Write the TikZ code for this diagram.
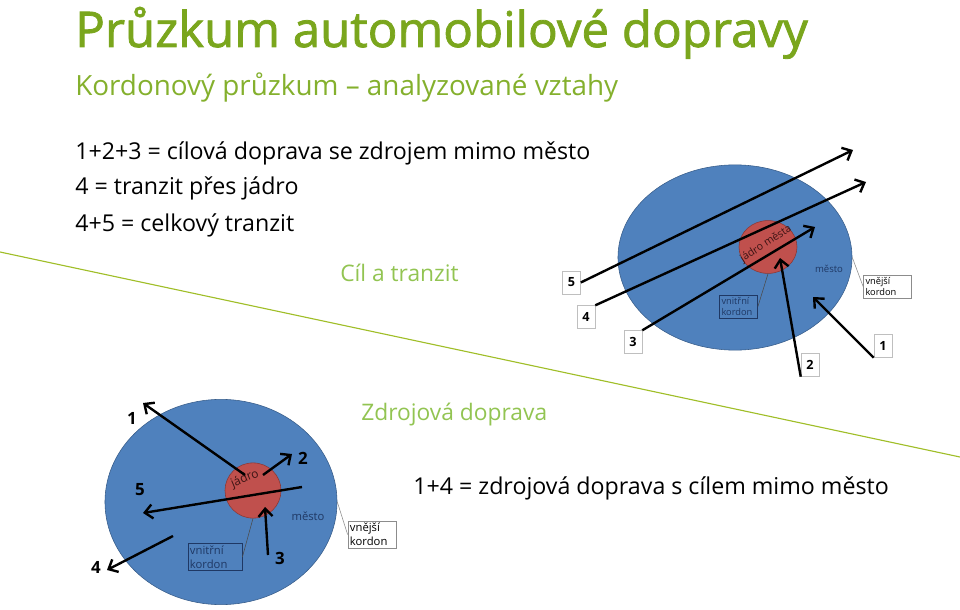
\documentclass[tikz,border=0pt]{standalone}
\usepackage{fontspec}
\setmainfont{Open Sans}
\newfontfamily\titlefont[FakeBold=1.6]{Open Sans}
\usetikzlibrary{arrows.meta, positioning, shapes.geometric}
\definecolor{titlegreen}{RGB}{122,166,29}
\definecolor{subgreen}{RGB}{132,176,45}
\definecolor{partgreen}{RGB}{146,196,82}
\definecolor{rulegreen}{RGB}{160,190,40}
\definecolor{cityblue}{RGB}{79,129,189}
\definecolor{cityedge}{RGB}{56,93,138}
\definecolor{corered}{RGB}{192,80,77}
\definecolor{coreedge}{RGB}{140,56,53}
\definecolor{labelblue}{RGB}{31,56,100}
\definecolor{corelabel}{RGB}{60,20,20}
\tikzset{
   txt/.style={anchor=base west, inner sep=0pt},
   heading/.style={txt, text=titlegreen, font=\titlefont\fontsize{35}{40}\selectfont},
   subheading/.style={txt, text=subgreen, font=\fontsize{19.8}{24}\selectfont},
   bodytext/.style={txt, font=\fontsize{16.5}{19}\selectfont},
   parttitle/.style={txt, text=partgreen, font=\fontsize{16.2}{19}\selectfont},
   city/.style={ellipse, draw=cityedge, fill=cityblue, inner sep=0pt},
   core/.style={ellipse, draw=coreedge, fill=corered, inner sep=0pt},
   kordonbox/.style={draw, inner sep=1.5pt, align=left, text width=#1},
   innerbox/.style={kordonbox=0.85cm, draw=labelblue, fill=cityblue, text=labelblue},
   outerbox/.style={kordonbox=1.1cm, draw=black!45, fill=white},
   numbox/.style={draw=black!25, fill=white, inner sep=0pt,
      minimum width=0.45cm, minimum height=0.57cm,
      font=\fontsize{9}{10}\selectfont\bfseries},
   numtext/.style={inner sep=0pt, font=\fontsize{12}{13}\selectfont\bfseries},
   flow/.style={-{Straight Barb[length=5.5pt, width=10pt]}, line width=1.7pt},
   leader/.style={thin}
}
\begin{document}
\begin{tikzpicture}[x=0.025cm, y=-0.025cm]
   \useasboundingbox (0,0) rectangle (960,610);

   % headings
   \node[heading](title) at (75,47) {Průzkum automobilové dopravy};
   \node[subheading](subtitle) at (75,96) {Kordonový průzkum – analyzované vztahy};
   \node[bodytext](line1) at (75,160) {1+2+3 = cílová doprava se zdrojem mimo město};
   \node[bodytext](line2) at (75,195) {4 = tranzit přes jádro};
   \node[bodytext](line3) at (75,231) {4+5 = celkový tranzit};

   \coordinate (ruleA) at (0,252);
   \coordinate (ruleB) at (960,457);
   \draw[rulegreen, thick] (ruleA) -- (ruleB);

   % cil a tranzit
   \node[parttitle](goal) at (340,281) {Cíl a tranzit};

   \node[city, minimum width=5.85cm, minimum height=4.63cm](town) at (735,257.5) {};
   \node[core, minimum width=1.45cm, minimum height=1.32cm](centre) at (768,247) {};
   \node[rotate=33, text=corelabel, inner sep=0pt, font=\fontsize{7.5}{8}\selectfont] at (766,244) {jádro města};
   \node[text=labelblue, font=\fontsize{6.8}{7}\selectfont] at (829,269) {město};
   \node[innerbox, font=\fontsize{6.6}{8}\selectfont](inner) at (738.5,306.5) {vnitřní\\ kordon};
   \node[outerbox, font=\fontsize{6.6}{8}\selectfont](outer) at (887.5,286.5) {vnější\\ kordon};
   \draw[leader, black!70] (inner.east) -- (centre.south);
   \draw[leader, black!45] (town.east) -- (outer.west);

   \node[numbox](n5) at (571.5,282.5) {5};
   \node[numbox](n4) at (586,317) {4};
   \node[numbox](n3) at (633,342) {3};
   \node[numbox](n2) at (810,365) {2};
   \node[numbox](n1) at (883,346) {1};

   \coordinate (t5) at (853,150);
   \coordinate (t4) at (866,182);
   \coordinate (t3) at (815,227);
   \coordinate (t2) at (780,258);
   \coordinate (t1) at (813,297);

   \draw[flow] (n5.east) -- (t5);
   \draw[flow] (n4.north east) -- (t4);
   \draw[flow] (n3.north east) -- (t3);
   \draw[flow] (n2.south west) -- (t2);
   \draw[flow] (n1.south west) -- (t1);

   % zdrojova doprava
   \node[parttitle](source) at (361,420) {Zdrojová doprava};
   \node[bodytext](line4) at (413,494) {1+4 = zdrojová doprava s cílem mimo město};

   \node[city, minimum width=5.8cm, minimum height=5.13cm](town2) at (221,502) {};
   \node[core, minimum width=1.4cm, minimum height=1.38cm](centre2) at (253,490.5) {};
   \node[rotate=23, text=corelabel, inner sep=0pt, font=\fontsize{8.5}{9}\selectfont] at (245,479) {jádro};
   \node[text=labelblue, font=\fontsize{8}{9}\selectfont] at (308,516) {město};
   \node[innerbox, text width=1.25cm, font=\fontsize{8}{10}\selectfont](inner2) at (215,557) {vnitřní\\ kordon};
   \node[outerbox, text width=1.1cm, font=\fontsize{8}{10}\selectfont](outer2) at (372,534.5) {vnější\\ kordon};
   \draw[leader, black!70] (inner2.east) -- (centre2.south);
   \draw[leader, black!45] (town2.east) -- (outer2.west);

   \coordinate (s1) at (245,475);
   \coordinate (s2) at (263,475);
   \coordinate (s5) at (302,487);
   \coordinate (s3) at (268,555);
   \coordinate (s4) at (173,536);
   \coordinate (e1) at (143,403);
   \coordinate (e2) at (292,454);
   \coordinate (e5) at (143,513);
   \coordinate (e3) at (265,507);
   \coordinate (e4) at (107,570);

   \draw[flow] (s1) -- (e1);
   \draw[flow] (s2) -- (e2);
   \draw[flow] (s5) -- (e5);
   \draw[flow] (s3) -- (e3);
   \draw[flow] (s4) -- (e4);

   \node[numtext](m1) at (132,418) {1};
   \node[numtext](m2) at (303,458) {2};
   \node[numtext](m3) at (280,558) {3};
   \node[numtext](m4) at (96,567) {4};
   \node[numtext](m5) at (140,490) {5};
\end{tikzpicture}
\end{document}
